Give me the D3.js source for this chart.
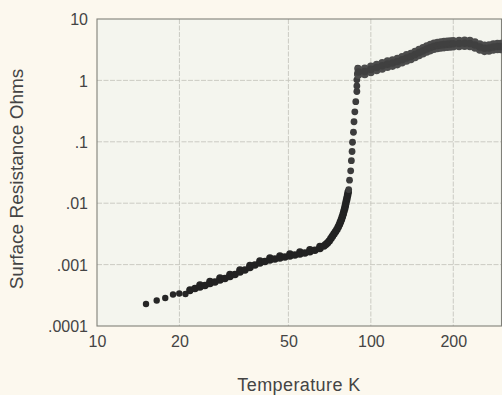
<!DOCTYPE html>
<html>
<head>
<meta charset="utf-8">
<script src="https://cdn.jsdelivr.net/npm/d3@7/dist/d3.min.js"></script>
<style>
  html, body { margin: 0; padding: 0; background: #fcf8ee; }
  svg { display: block; }
  text { font-family: "Liberation Sans", Arial, Helvetica, sans-serif; fill: #444444; }
</style>
</head>
<body>
<svg id="chart" width="502" height="395"></svg>
<script>
// ---- data ----
const xTicks = [10, 20, 50, 100, 200];
const xTickLabels = ["10", "20", "50", "100", "200"];
const yTicks = [0.0001, 0.001, 0.01, 0.1, 1, 10];
const yTickLabels = [".0001", ".001", ".01", ".1", "1", "10"];

// sparse low-temperature points
const lowTemp = [15.10, 16.52, 17.75, 18.95, 19.97, 21.04, 21.85];
const lowRes  = [2.28e-4, 2.60e-4, 2.86e-4, 3.26e-4, 3.38e-4, 3.32e-4, 3.72e-4];

// dense band below the transition
const bandTemp = [21.85, 22.79, 23.77, 24.79, 25.85, 26.96, 28.12, 29.32, 30.58, 31.90,
  33.27, 34.69, 36.18, 37.73, 39.35, 41.04, 42.80, 44.64, 46.56, 48.56,
  50.64, 52.81, 55.08, 57.44, 59.91, 62.48, 65.17, 67.39, 68.42, 69.40,
  70.46, 71.47, 72.38, 73.30, 74.23, 75.17, 76.00, 76.77, 77.41, 78.07,
  78.66, 79.26, 79.72, 80.26, 80.67, 81.08, 81.49, 81.90, 82.31, 82.66];
const bandRes = [3.86e-4, 4.08e-4, 4.32e-4, 4.57e-4, 4.92e-4, 5.21e-4, 5.61e-4, 5.94e-4, 6.40e-4, 6.90e-4,
  7.58e-4, 8.17e-4, 8.97e-4, 9.85e-4, 1.062e-3, 1.123e-3, 1.188e-3, 1.234e-3, 1.281e-3, 1.330e-3,
  1.381e-3, 1.434e-3, 1.488e-3, 1.545e-3, 1.616e-3, 1.709e-3, 1.829e-3, 2.009e-3, 2.125e-3, 2.248e-3,
  2.424e-3, 2.66e-3, 2.89e-3, 3.15e-3, 3.42e-3, 3.73e-3, 4.10e-3, 4.50e-3, 4.94e-3, 5.43e-3,
  6.01e-3, 6.67e-3, 7.41e-3, 8.20e-3, 9.07e-3, 1.008e-2, 1.115e-2, 1.238e-2, 1.370e-2, 1.522e-2];
const band2Temp = [23.77, 25.85, 28.12, 30.58, 33.27, 36.18, 39.35, 42.80, 46.56, 50.64, 55.08, 59.91, 65.17];
const band2Res  = [4.66e-4, 5.30e-4, 6.05e-4, 6.90e-4, 8.17e-4, 9.67e-4, 1.145e-3, 1.281e-3, 1.381e-3, 1.489e-3, 1.604e-3, 1.742e-3, 1.972e-3];

// transition (superconducting edge)
const transTemp = [83.0, 83.6, 84.4, 84.9, 85.4, 85.7, 86.4, 86.8, 87.4, 88.1, 88.9, 88.9, 88.9, 89.3, 89.6];
const transRes  = [0.0167, 0.0237, 0.0337, 0.0492, 0.0695, 0.0984, 0.143, 0.212, 0.308, 0.450, 0.659, 0.811, 1.02, 1.27, 1.59];

// normal-state plateau (band drawn as mid, upper and lower edges)
const plateauTemp = [90, 95, 100, 105, 110, 115, 120, 125, 130, 135, 140, 145, 150, 155, 160, 165, 170,
  175, 180, 185, 190, 195, 200, 210, 220, 230, 240, 250, 260, 270, 280, 290, 298];
const plateauMid = [1.37, 1.40, 1.51, 1.62, 1.73, 1.84, 1.92, 2.03, 2.17, 2.32, 2.45, 2.64, 2.85, 3.03, 3.25, 3.43, 3.59,
  3.70, 3.77, 3.83, 3.87, 3.92, 3.95, 3.99, 4.02, 3.99, 3.77, 3.50, 3.33, 3.37, 3.50, 3.56, 3.56];
const plateauUpper = [1.53, 1.57, 1.69, 1.81, 1.94, 2.06, 2.15, 2.27, 2.43, 2.60, 2.74, 2.96, 3.19, 3.39, 3.64, 3.84, 4.02,
  4.14, 4.22, 4.29, 4.33, 4.39, 4.42, 4.47, 4.50, 4.47, 4.22, 3.92, 3.73, 3.77, 3.92, 3.99, 3.99];
const plateauLower = [1.22, 1.25, 1.35, 1.45, 1.54, 1.64, 1.71, 1.81, 1.94, 2.07, 2.19, 2.36, 2.54, 2.71, 2.90, 3.06, 3.21,
  3.30, 3.37, 3.42, 3.46, 3.50, 3.53, 3.56, 3.59, 3.56, 3.37, 3.13, 2.97, 3.01, 3.13, 3.18, 3.18];

// ---- drawing ----
const svg = d3.select("#chart");
const W = 502, H = 395;
const m = { left: 97, top: 19, right: 501.5, bottom: 326 };

svg.append("rect").attr("width", W).attr("height", H).attr("fill", "#fcf8ee");

const x = d3.scaleLog().domain([10, 300]).range([m.left, m.right]);
const y = d3.scaleLog().domain([0.0001, 10]).range([m.bottom, m.top]);

svg.append("rect")
  .attr("x", m.left).attr("y", m.top)
  .attr("width", m.right - m.left).attr("height", m.bottom - m.top)
  .attr("fill", "#f4f5ee");

// grid lines
const grid = svg.append("g");
grid.selectAll("line.v").data(xTicks.slice(1)).join("line")
  .attr("x1", d => x(d)).attr("x2", d => x(d))
  .attr("y1", m.top).attr("y2", m.bottom)
  .attr("stroke", "#c6c6be").attr("stroke-width", 0.9).attr("stroke-dasharray", "5,1.5");
grid.selectAll("line.h").data(yTicks.slice(1, -1)).join("line")
  .attr("y1", d => y(d)).attr("y2", d => y(d))
  .attr("x1", m.left).attr("x2", m.right)
  .attr("stroke", "#c6c6be").attr("stroke-width", 0.9).attr("stroke-dasharray", "5,1.5");

// axes (labels only, frame drawn separately)
const xAxis = d3.axisBottom(x).tickValues(xTicks)
  .tickFormat((d, i) => xTickLabels[i]).tickSize(0).tickPadding(0);
const gx = svg.append("g").attr("transform", `translate(0,${m.bottom})`).call(xAxis);
gx.select(".domain").remove();
gx.selectAll("text").attr("y", 21).attr("dy", 0)
  .style("font-size", "16px").style("fill", "#444444")
  .style("font-family", "'Liberation Sans', Arial, sans-serif");

const yAxis = d3.axisLeft(y).tickValues(yTicks)
  .tickFormat((d, i) => yTickLabels[i]).tickSize(0).tickPadding(0);
const gy = svg.append("g").attr("transform", `translate(${m.left - 9},0)`).call(yAxis);
gy.select(".domain").remove();
gy.selectAll("text").attr("x", 0).attr("dy", "0.36em")
  .style("font-size", "16px").style("fill", "#444444")
  .style("font-family", "'Liberation Sans', Arial, sans-serif");

// frame
svg.append("rect")
  .attr("x", m.left).attr("y", m.top)
  .attr("width", m.right - m.left).attr("height", m.bottom - m.top)
  .attr("fill", "none").attr("stroke", "#808079").attr("stroke-width", 1.1);

// points
function dots(temps, res, color, r) {
  const pts = temps.map((t, i) => [t, res[i]]);
  svg.append("g").selectAll("circle").data(pts).join("circle")
    .attr("cx", d => x(d[0])).attr("cy", d => y(d[1]))
    .attr("r", r).attr("fill", color);
}
dots(lowTemp, lowRes, "#262626", 3.2);
dots(band2Temp, band2Res, "#262626", 3.8);
dots(bandTemp, bandRes, "#222222", 3.8);
dots(transTemp, transRes, "#3c3c3c", 3.4);
dots(plateauTemp, plateauUpper, "#4c4c4c", 3.8);
dots(plateauTemp, plateauLower, "#4c4c4c", 3.8);
dots(plateauTemp, plateauMid, "#404040", 3.8);

// titles
svg.append("text")
  .attr("x", 299).attr("y", 391)
  .attr("text-anchor", "middle")
  .style("font-size", "18px").style("letter-spacing", "0.4px")
  .text("Temperature K");

svg.append("text")
  .attr("transform", "translate(23,179) rotate(-90)")
  .attr("text-anchor", "middle")
  .style("font-size", "19px")
  .text("Surface Resistance Ohms");
</script>
</body>
</html>
